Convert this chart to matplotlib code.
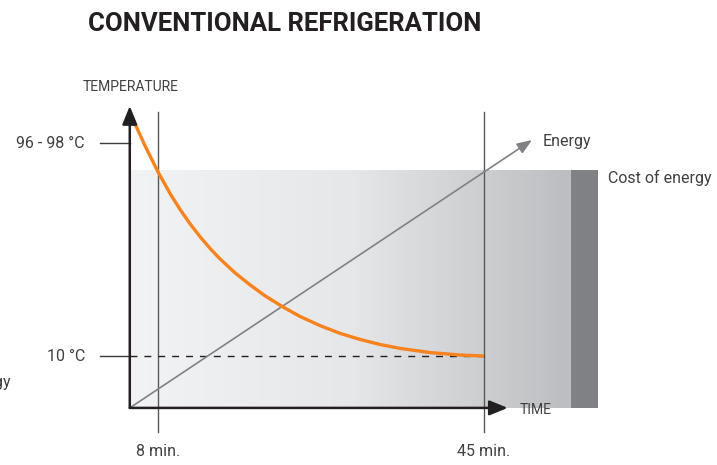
import matplotlib
matplotlib.use('Agg')
import matplotlib.pyplot as plt
import numpy as np
from matplotlib.patches import Rectangle
from matplotlib.colors import LinearSegmentedColormap

plt.rcParams['font.family'] = ['Roboto', 'DejaVu Sans']

# cooling curve (minutes, deg C)
curveTime = [5.0, 6.5, 8.0, 9.4, 10.5, 11.6, 12.8, 14.0, 15.0, 16.7, 18.4, 20.1, 22.2,
             24.1, 26.4, 28.7, 30.9, 33.2, 35.5, 38.9, 42.3, 45.0]
curveTemp = [108.0, 96.1, 85.2, 76.2, 69.9, 64.2, 58.6, 53.6, 49.8, 44.1, 39.2, 34.7, 30.0,
             26.2, 22.4, 19.2, 16.8, 14.7, 13.1, 11.4, 10.4, 10.0]

timeMarks = [8, 45]
timeLabels = ['8 min.', '45 min.']
tempMarks = [97, 10]
tempLabels = ['96 - 98 °C', '10 °C']

# schematic geometry (same units as the data)
origin = (4.8, -11.2)
energyTip = (50.45, 98.2)
boxTop = 86.0
boxRight = 54.9
costRight = 57.9

fig = plt.figure(figsize=(7.17, 4.65), dpi=100)
ax = fig.add_axes([0, 0, 1, 1])
ax.set_xlim(-9.93, 71.45)
ax.set_ylim(-34.52, 155.41)
ax.axis('off')

txt = '#404041'

# background gradient box + cost block
grad = np.linspace(0, 1, 256).reshape(1, -1)
cmap = LinearSegmentedColormap.from_list('g', ['#f2f3f5', '#e6e7e9', '#bcbdc0'])
ax.imshow(grad, cmap=cmap, aspect='auto', extent=[origin[0], boxRight, origin[1], boxTop], zorder=0)
ax.add_patch(Rectangle((boxRight, origin[1]), costRight - boxRight, boxTop - origin[1],
                       facecolor='#808184', edgecolor='none', zorder=0))

# time marks
for t, lab in zip(timeMarks, timeLabels):
    ax.plot([t, t], [-21.0, 109.7], color='#58595b', lw=1.0, zorder=2)
    ax.text(t, -29.2, lab, ha='center', va='center', fontsize=11.5, color=txt)

# temperature marks
for T, lab in zip(tempMarks, tempLabels):
    ax.plot([1.4, origin[0]], [T, T], color='#3c3c3c', lw=1.0, zorder=2)
    ax.text(-0.3, T, lab, ha='right', va='center', fontsize=11.5, color=txt)
ax.plot([origin[0], timeMarks[1]], [tempMarks[1], tempMarks[1]], color='#231f20', lw=1.0,
        dashes=(5, 5), zorder=2)

# energy line
ax.annotate('', xy=energyTip, xytext=origin,
            arrowprops=dict(arrowstyle='-|>,head_length=0.9,head_width=0.35', color='#808285',
                            lw=1.2, shrinkA=0, shrinkB=0), zorder=3)

# cooling curve
ax.plot(curveTime, curveTemp, color='#f7821e', lw=2.4, solid_capstyle='butt',
        solid_joinstyle='round', zorder=4)

# axes
ax.annotate('', xy=(origin[0], 112.1), xytext=origin,
            arrowprops=dict(arrowstyle='-|>,head_length=1.1,head_width=0.45', color='#231f20',
                            lw=1.8, shrinkA=0, shrinkB=0), zorder=5)
ax.annotate('', xy=(47.7, origin[1]), xytext=origin,
            arrowprops=dict(arrowstyle='-|>,head_length=1.1,head_width=0.45', color='#231f20',
                            lw=1.8, shrinkA=0, shrinkB=0), zorder=5)

ax.text(4.9, 119.9, 'TEMPERATURE', ha='center', va='center', fontsize=10, color=txt)
ax.text(49.1, -12.1, 'TIME', ha='left', va='center', fontsize=10, color=txt)
ax.text(51.7, 97.8, 'Energy', ha='left', va='center', fontsize=11.5, color=txt)
ax.text(59.07, 82.7, 'Cost of energy', ha='left', va='center', fontsize=11.5, color=txt)
ax.text(-8.7, -1.0, 'Energy', ha='right', va='center', fontsize=11.5, color=txt)

fig.text(88 / 717, 1 - 24 / 465, 'CONVENTIONAL REFRIGERATION', ha='left', va='center',
         fontsize=18.5, fontweight='bold', color='#231f20')

fig.savefig('out.png', dpi=100)
